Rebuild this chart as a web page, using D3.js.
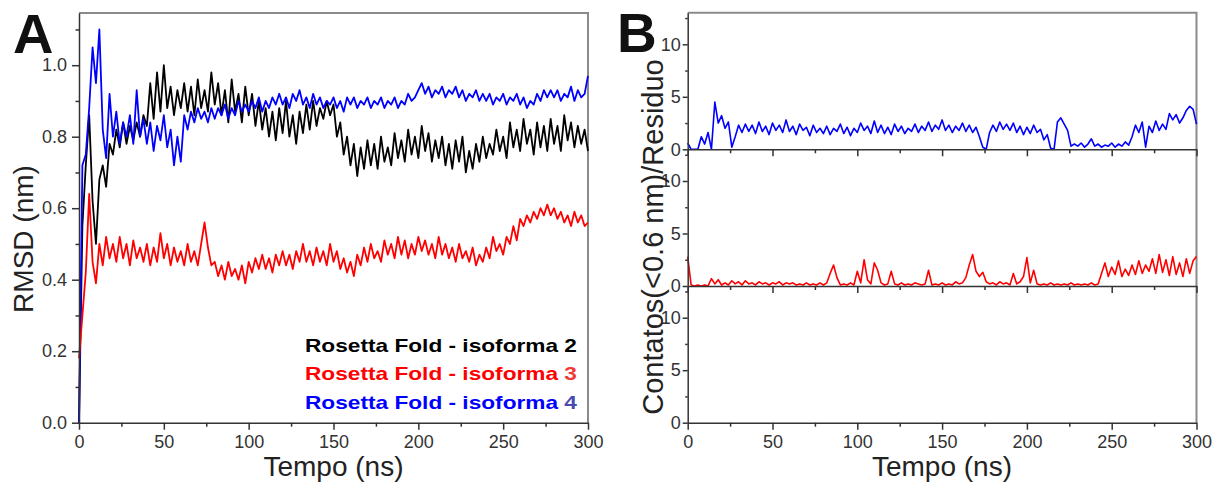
<!DOCTYPE html>
<html>
<head>
<meta charset="utf-8">
<script src="https://cdn.jsdelivr.net/npm/d3@7"></script>
<style>
  body { margin: 0; background: #fff; }
  svg { display: block; font-family: "Liberation Sans", Arial, sans-serif; }
  .tick text { fill: #333; font-size: 18px; }
  .tick line, .domain { stroke: #333; stroke-width: 1.5; }
</style>
</head>
<body>
<div id="chart"></div>
<script>
// sampling times (ns), one value every 2 ns
const tempo = d3.range(0, 301, 2);

// panel A: RMSD (nm)
const rmsdIso2 = [
  0.00, 0.55, 0.72, 0.86, 0.62, 0.50, 0.68, 0.72, 0.66, 0.78,
  0.75, 0.82, 0.77, 0.84, 0.78, 0.83, 0.79, 0.84, 0.80, 0.86,
  0.83, 0.95, 0.85, 0.98, 0.87, 1.00, 0.88, 0.94, 0.86, 0.93,
  0.88, 0.95, 0.87, 0.94, 0.86, 0.96, 0.88, 0.93, 0.87, 0.98,
  0.89, 0.95, 0.86, 0.93, 0.84, 0.96, 0.87, 0.92, 0.84, 0.94,
  0.86, 0.92, 0.83, 0.90, 0.82, 0.88, 0.80, 0.87, 0.79, 0.88,
  0.81, 0.90, 0.80, 0.86, 0.78, 0.87, 0.81, 0.89, 0.82, 0.90,
  0.83, 0.88, 0.85, 0.90, 0.86, 0.89, 0.80, 0.84, 0.75, 0.80,
  0.72, 0.78, 0.69, 0.77, 0.71, 0.79, 0.72, 0.78, 0.71, 0.80,
  0.73, 0.77, 0.72, 0.81, 0.74, 0.79, 0.73, 0.82, 0.75, 0.80,
  0.74, 0.83, 0.76, 0.81, 0.73, 0.79, 0.74, 0.80, 0.72, 0.78,
  0.71, 0.79, 0.73, 0.80, 0.70, 0.76, 0.71, 0.78, 0.73, 0.80,
  0.74, 0.78, 0.75, 0.82, 0.76, 0.80, 0.74, 0.84, 0.77, 0.82,
  0.76, 0.85, 0.78, 0.82, 0.75, 0.84, 0.77, 0.83, 0.76, 0.85,
  0.78, 0.83, 0.76, 0.86, 0.79, 0.84, 0.77, 0.83, 0.78, 0.82,
  0.76
];
const rmsdIso3 = [
  0.18, 0.30, 0.42, 0.64, 0.45, 0.39, 0.50, 0.44, 0.52, 0.46,
  0.50, 0.45, 0.52, 0.46, 0.50, 0.44, 0.51, 0.46, 0.49, 0.45,
  0.50, 0.44, 0.49, 0.45, 0.53, 0.46, 0.50, 0.44, 0.49, 0.45,
  0.48, 0.44, 0.50, 0.45, 0.48, 0.44, 0.50, 0.56, 0.49, 0.44,
  0.45, 0.41, 0.44, 0.40, 0.45, 0.41, 0.43, 0.40, 0.44, 0.39,
  0.45, 0.42, 0.46, 0.43, 0.47, 0.43, 0.46, 0.42, 0.47, 0.44,
  0.48, 0.44, 0.47, 0.43, 0.48, 0.45, 0.50, 0.45, 0.48, 0.44,
  0.49, 0.45, 0.48, 0.44, 0.50, 0.45, 0.48, 0.43, 0.46, 0.42,
  0.45, 0.41, 0.47, 0.44, 0.49, 0.45, 0.50, 0.46, 0.48, 0.45,
  0.51, 0.47, 0.50, 0.46, 0.52, 0.47, 0.51, 0.46, 0.50, 0.47,
  0.52, 0.48, 0.51, 0.47, 0.50, 0.46, 0.52, 0.47, 0.50, 0.46,
  0.49, 0.45, 0.50, 0.46, 0.48, 0.45, 0.49, 0.44, 0.47, 0.45,
  0.49, 0.46, 0.52, 0.48, 0.50, 0.47, 0.52, 0.50, 0.55, 0.51,
  0.57, 0.55, 0.58, 0.56, 0.59, 0.57, 0.60, 0.58, 0.61, 0.58,
  0.60, 0.57, 0.59, 0.56, 0.58, 0.55, 0.59, 0.56, 0.58, 0.55,
  0.56
];
const rmsdIso4 = [
  0.00, 0.72, 0.75, 0.88, 1.05, 0.95, 1.10, 0.82, 0.74, 0.92,
  0.80, 0.87, 0.78, 0.84, 0.80, 0.86, 0.78, 0.93, 0.80, 0.85,
  0.78, 0.84, 0.76, 0.83, 0.79, 0.86, 0.77, 0.82, 0.72, 0.80,
  0.73, 0.86, 0.82, 0.87, 0.84, 0.88, 0.85, 0.87, 0.84, 0.88,
  0.85, 0.88, 0.86, 0.89, 0.85, 0.88, 0.86, 0.90, 0.87, 0.89,
  0.87, 0.90, 0.88, 0.91, 0.87, 0.90, 0.88, 0.91, 0.89, 0.92,
  0.89, 0.91, 0.88, 0.92, 0.90, 0.93, 0.89, 0.91, 0.88, 0.92,
  0.89, 0.91, 0.88, 0.90, 0.89, 0.91, 0.88, 0.90, 0.87, 0.91,
  0.89, 0.91, 0.88, 0.90, 0.89, 0.91, 0.88, 0.90, 0.89, 0.91,
  0.88, 0.90, 0.89, 0.91, 0.88, 0.90, 0.89, 0.92, 0.90, 0.91,
  0.93, 0.95, 0.92, 0.94, 0.91, 0.93, 0.92, 0.94, 0.91, 0.93,
  0.92, 0.94, 0.91, 0.93, 0.90, 0.92, 0.91, 0.93, 0.90, 0.92,
  0.90, 0.92, 0.89, 0.91, 0.90, 0.92, 0.89, 0.91, 0.90, 0.92,
  0.89, 0.91, 0.88, 0.90, 0.89, 0.92, 0.90, 0.93, 0.91, 0.93,
  0.91, 0.93, 0.90, 0.92, 0.91, 0.94, 0.90, 0.93, 0.91, 0.92,
  0.97
];

// panel B: contatos (<0.6 nm) por residuo
const contatosIso4 = [
  0.6, 0.0, 0.0, 0.0, 1.2, 0.5, 1.6, 0.0, 4.5, 2.5,
  3.2, 2.0, 2.6, 0.2, 1.2, 2.3, 1.6, 2.4, 1.7, 2.3,
  1.5, 2.6, 1.7, 2.2, 1.4, 2.5, 1.8, 2.3, 1.6, 2.8,
  1.7, 2.2, 1.4, 2.4, 1.8, 2.1, 1.3, 2.3, 1.6, 2.0,
  1.5, 2.2, 1.4, 2.0, 1.7, 2.4, 1.5, 2.1, 1.3, 2.0,
  1.6, 2.5, 1.8, 2.2, 1.5, 2.7, 1.6, 2.3, 1.5, 2.1,
  1.4, 2.4, 1.7, 2.2, 1.5, 2.0, 1.7, 2.4, 1.6, 2.2,
  1.8, 2.6, 1.7, 2.3, 1.9, 2.8, 1.8, 2.3, 1.6, 2.2,
  1.8, 2.5, 1.7, 2.3, 1.6, 2.1, 1.2, 0.2, 0.0, 1.6,
  2.3, 1.7, 2.6, 1.9, 2.4, 1.8, 2.5, 1.6, 2.2, 1.4,
  2.1, 1.5, 2.3, 1.6, 1.9, 0.9, 1.4, 0.1, 0.0, 2.6,
  3.0, 2.4, 1.8, 0.3, 0.5, 0.3, 0.6, 0.2, 0.5, 1.0,
  0.3, 0.5, 0.2, 0.4, 0.3, 0.6, 0.2, 0.5, 0.3, 0.7,
  0.4, 1.2, 2.3, 1.6, 2.6, 0.2, 2.2, 1.6, 2.7, 1.8,
  2.4, 1.9, 3.4, 2.8, 3.3, 2.5, 3.0, 3.7, 4.1, 3.8,
  2.4
];
const contatosIso3 = [
  2.8, 0.1, 0.0, 0.1, 0.0, 0.1, 0.0, 0.7, 0.2, 0.6,
  0.1, 0.3, 0.1, 0.5, 0.2, 0.4, 0.1, 0.5, 0.2, 0.3,
  0.1, 0.4, 0.2, 0.3, 0.1, 0.3, 0.2, 0.4, 0.1, 0.3,
  0.2, 0.3, 0.1, 0.2, 0.1, 0.3, 0.1, 0.2, 0.1, 0.3,
  0.1, 0.3, 1.2, 2.0, 0.8, 0.1, 0.2, 0.1, 0.3, 0.1,
  1.4, 0.3, 2.5, 0.6, 0.2, 2.2, 1.5, 0.3, 0.1, 0.2,
  1.4, 0.2, 0.1, 0.3, 0.1, 0.2, 0.1, 0.3, 0.2, 0.1,
  0.2, 1.5, 0.1, 0.2, 0.1, 0.3, 0.1, 0.2, 0.1, 0.4,
  0.2, 0.3, 0.8, 2.0, 3.0, 1.4, 0.9, 1.3, 0.4, 0.2,
  0.3, 0.1, 0.4, 0.2, 0.3, 0.1, 1.2, 0.2, 0.4, 0.9,
  2.7, 0.3, 1.5, 0.2, 0.1, 0.2, 0.1, 0.3, 0.1, 0.2,
  0.1, 0.2, 0.1, 0.3, 0.1, 0.2, 0.1, 0.2, 0.1, 0.3,
  0.1, 0.2, 1.2, 2.2, 0.9, 1.8, 1.1, 2.4, 0.9, 1.6,
  1.0, 2.0, 1.1, 2.4, 1.2, 2.0, 1.4, 2.6, 1.2, 3.0,
  1.3, 2.5, 1.0, 2.8, 1.1, 2.2, 0.9, 2.6, 1.2, 2.4,
  2.8
];

const xTicks = [0, 50, 100, 150, 200, 250, 300];
const xMinor = [25, 75, 125, 175, 225, 275];
const rmsdTicks = [0, 0.2, 0.4, 0.6, 0.8, 1.0];
const rmsdMinor = [0.1, 0.3, 0.5, 0.7, 0.9, 1.1];
const contTicks = [0, 5, 10];
const contMinor = [2.5, 7.5, 12.5];
const legendLabels = ["Rosetta Fold - isoforma ", "Rosetta Fold - isoforma ", "Rosetta Fold - isoforma "];
const legendNums = ["2", "3", "4"];
const legendColors = ["#000000", "#ff0000", "#0000ff"];
const legendNumColors = ["#000000", "#f03a3a", "#4a4ab0"];

const svg = d3.select("#chart").append("svg")
  .attr("width", 1217)
  .attr("height", 484);

function drawFrame(x, y) {
  // grey top/right box
  svg.append("path")
    .attr("d", `M${x.range()[0]},${y.range()[1]}H${x.range()[1]}V${y.range()[0]}`)
    .attr("fill", "none")
    .attr("stroke", "#8a8a8a")
    .attr("stroke-width", 2);
}

function drawXAxis(x, y, labels) {
  const g = svg.append("g").attr("transform", `translate(0,${y.range()[0]})`);
  g.call(d3.axisBottom(x).tickValues(xTicks).tickSize(7).tickSizeOuter(0).tickPadding(6)
    .tickFormat(labels ? d3.format("d") : ""));
  svg.append("g").attr("transform", `translate(0,${y.range()[0]})`)
    .call(d3.axisBottom(x).tickValues(xMinor).tickSize(4).tickFormat(""))
    .select(".domain").remove();
}

function drawYAxis(x, y, major, minor, fmt, size, pad) {
  svg.append("g").attr("transform", `translate(${x.range()[0]},0)`)
    .call(d3.axisLeft(y).tickValues(major).tickSize(size).tickSizeOuter(0).tickPadding(pad).tickFormat(fmt));
  svg.append("g").attr("transform", `translate(${x.range()[0]},0)`)
    .call(d3.axisLeft(y).tickValues(minor).tickSize(size / 2).tickFormat(""))
    .select(".domain").remove();
}

function drawLine(x, y, values, color, width) {
  svg.append("path")
    .datum(values)
    .attr("fill", "none")
    .attr("stroke", color)
    .attr("stroke-width", width)
    .attr("stroke-linejoin", "round")
    .attr("d", d3.line()
      .x(function (d, i) { return x(tempo[i]); })
      .y(function (d) { return y(d); }));
}

// ---------- panel A ----------
const xA = d3.scaleLinear().domain([0, 300]).range([79, 588]);
const yA = d3.scaleLinear().domain([0, 1.146]).range([422.7, 13]);

drawFrame(xA, yA);
drawLine(xA, yA, rmsdIso2, "#000000", 1.8);
drawLine(xA, yA, rmsdIso4, "#0000ff", 1.8);
drawLine(xA, yA, rmsdIso3, "#ff0000", 1.8);
drawXAxis(xA, yA, true);
drawYAxis(xA, yA, rmsdTicks, rmsdMinor, d3.format(".1f"), 7, 5);

const legend = svg.append("g").attr("font-weight", "bold").attr("font-size", "19px");
legendLabels.forEach((t, i) => {
  const txt = legend.append("text")
    .attr("x", 577)
    .attr("y", 352 + i * 28.3)
    .attr("text-anchor", "end")
    .attr("textLength", 272)
    .attr("lengthAdjust", "spacingAndGlyphs")
    .attr("fill", legendColors[i]);
  txt.append("tspan").text(t);
  txt.append("tspan").attr("fill", legendNumColors[i]).text(legendNums[i]);
});

svg.append("text").attr("x", 333.5).attr("y", 476).attr("text-anchor", "middle")
  .attr("font-size", "28px").attr("fill", "#222").text("Tempo (ns)");
svg.append("text").attr("transform", "translate(33,239) rotate(-90)").attr("text-anchor", "middle")
  .attr("font-size", "28px").attr("fill", "#222").text("RMSD (nm)");
svg.append("text").attr("x", 13).attr("y", 53).attr("font-size", "56px").attr("font-weight", "bold")
  .attr("fill", "#111").text("A");

// ---------- panel B ----------
const xB = d3.scaleLinear().domain([0, 300]).range([687.7, 1196.5]);
const bottoms = [149.3, 286, 422.7];
const yB = bottoms.map(b => d3.scaleLinear().domain([0, 13]).range([b, b - 136.5]));

svg.append("path")
  .attr("d", `M${xB(0)},${yB[0].range()[1]}H${xB(300)}V${yB[2].range()[0]}`)
  .attr("fill", "none")
  .attr("stroke", "#8a8a8a")
  .attr("stroke-width", 2);

drawLine(xB, yB[0], contatosIso4, "#0000ff", 1.6);
drawLine(xB, yB[1], contatosIso3, "#ff0000", 1.6);

yB.forEach((y, i) => {
  drawXAxis(xB, y, i === 2);
  drawYAxis(xB, y, contTicks, contMinor, d3.format("d"), 5, 2);
});

svg.append("text").attr("x", 942).attr("y", 476).attr("text-anchor", "middle")
  .attr("font-size", "28px").attr("fill", "#222").text("Tempo (ns)");
svg.append("text").attr("transform", "translate(663,237) rotate(-90)").attr("text-anchor", "middle")
  .attr("font-size", "29px").attr("fill", "#222").text("Contatos(<0.6 nm)/Residuo");
svg.append("text").attr("x", 617).attr("y", 52).attr("font-size", "55px").attr("font-weight", "bold")
  .attr("fill", "#111").text("B");
</script>
</body>
</html>
